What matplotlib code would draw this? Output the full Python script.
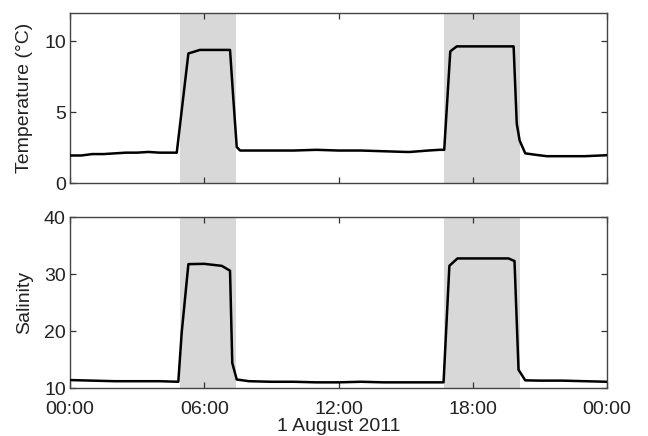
import matplotlib
matplotlib.use("Agg")
import matplotlib.pyplot as plt
from matplotlib.ticker import FixedLocator, FuncFormatter

plt.rcParams["font.family"] = ["Liberation Sans", "DejaVu Sans"]
plt.rcParams["font.size"] = 14

# hours since 00:00, 1 August 2011
temp_hours = [0, 0.5, 1.0, 1.5, 2.0, 2.5, 3.0, 3.5, 4.0, 4.5, 4.77, 5.29, 5.6, 5.8,
              6.5, 7.15, 7.3, 7.45, 7.6, 8, 9, 10, 11, 12, 13, 14, 15, 15.2, 16,
              16.5, 16.72, 16.99, 17.28, 18, 19, 19.82, 19.96, 20.09, 20.34,
              20.8, 21.3, 22, 23, 24]
temp_vals = [1.95, 1.95, 2.05, 2.05, 2.1, 2.15, 2.15, 2.2, 2.15, 2.15, 2.15, 9.15, 9.3, 9.4,
             9.4, 9.4, 5.9, 2.55, 2.3, 2.3, 2.3, 2.3, 2.35, 2.3, 2.3, 2.25, 2.2, 2.2, 2.3,
             2.35, 2.35, 9.3, 9.65, 9.65, 9.65, 9.65, 4.2, 3.0, 2.1,
             2.0, 1.9, 1.9, 1.9, 1.97]

sal_hours = [0, 1, 2, 3, 4, 4.84, 4.99, 5.29, 6.0, 6.78, 7.15, 7.25, 7.45, 8, 9,
             10, 11, 12, 13, 14, 15, 16, 16.69, 16.95, 17.31, 18, 19, 19.59,
             19.86, 20.04, 20.34, 21, 22, 23, 24]
sal_vals = [11.4, 11.3, 11.2, 11.2, 11.2, 11.1, 19.7, 31.75, 31.8, 31.45, 30.6, 14.4, 11.5, 11.2, 11.1,
            11.1, 11.0, 11.0, 11.1, 11.0, 11.0, 11.0, 11.0, 31.45, 32.75, 32.75, 32.75, 32.75,
            32.3, 13.2, 11.35, 11.3, 11.3, 11.2, 11.1]

shade_spans = [(4.92, 7.42), (16.72, 20.11)]
x_ticks = [0, 6, 12, 18, 24]
x_labels = ["00:00", "06:00", "12:00", "18:00", "00:00"]

fig = plt.figure(figsize=(6.48, 4.36), dpi=100)
ax1 = fig.add_axes([0.108, 0.580, 0.829, 0.390])
ax2 = fig.add_axes([0.108, 0.110, 0.829, 0.392])

for ax, xs, ys in [(ax1, temp_hours, temp_vals), (ax2, sal_hours, sal_vals)]:
    for a, b in shade_spans:
        ax.axvspan(a, b, color="#d8d8d8", lw=0, zorder=0)
    ax.plot(xs, ys, color="black", lw=1.8, zorder=3)
    ax.set_xlim(0, 24)
    ax.xaxis.set_major_locator(FixedLocator(x_ticks))
    ax.tick_params(direction="in", top=True, right=True, length=4, width=0.9,
                   colors="#333333", labelcolor="#222222", labelsize=14, pad=3)
    for s in ax.spines.values():
        s.set_color("#444444")
        s.set_linewidth(1.0)

ax1.set_ylim(0, 12)
ax1.set_yticks([0, 5, 10])
ax1.tick_params(labelbottom=False)
ax1.set_ylabel("Temperature (°C)", fontsize=14, color="#222222")
ax1.yaxis.set_label_coords(-0.068, 0.5)

ax2.set_ylim(10, 40)
ax2.set_yticks([10, 20, 30, 40])
ax2.tick_params(axis="x", pad=9)
ax2.xaxis.set_major_formatter(FuncFormatter(lambda v, p: x_labels[x_ticks.index(int(round(v)))]))
ax2.set_ylabel("Salinity", fontsize=14, color="#222222")
ax2.yaxis.set_label_coords(-0.068, 0.5)
ax2.set_xlabel("1 August 2011", fontsize=14, color="#222222", labelpad=0)

fig.savefig("out.png", dpi=100)
